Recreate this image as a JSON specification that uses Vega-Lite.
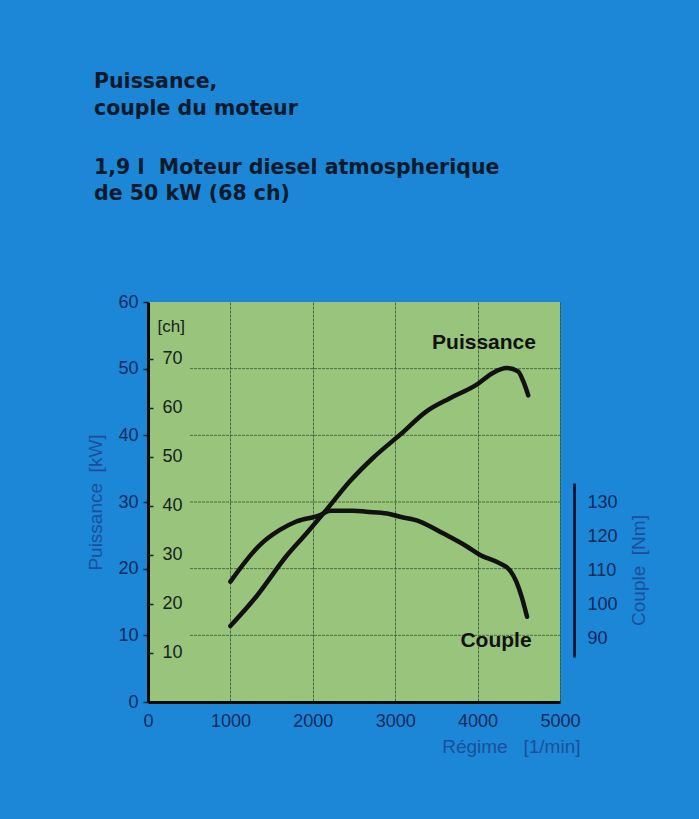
{
  "$schema": "https://vega.github.io/schema/vega-lite/v6.json",
  "autosize": {"type": "none"},
  "padding": {"left": 148, "top": 302, "right": 139, "bottom": 117},
  "width": 412,
  "height": 400,
  "background": "#1c87d6",
  "config": {
    "view": {"stroke": null, "fill": "#98c47c"},
    "font": "Liberation Sans",
    "axis": {"labelFont": "Liberation Sans", "titleFont": "Liberation Sans"}
  },
  "title": {
    "text": ["Puissance,", "couple du moteur"],
    "subtitle": ["1,9 l\u00a0\u00a0Moteur diesel atmospherique", "de 50 kW (68 ch)"],
    "anchor": "start",
    "frame": "group",
    "orient": "top",
    "font": "DejaVu Sans",
    "subtitleFont": "DejaVu Sans",
    "fontSize": 20.5,
    "subtitleFontSize": 20.5,
    "fontWeight": "bold",
    "subtitleFontWeight": "bold",
    "color": "#0b1a2c",
    "subtitleColor": "#0b1a2c",
    "lineHeight": 27,
    "subtitleLineHeight": 26,
    "subtitlePadding": 38,
    "dx": -54,
    "offset": 89
  },
  "datasets": {
    "grid": [{"kw": 10}, {"kw": 20}, {"kw": 30}, {"kw": 40}, {"kw": 50}],
    "puissance": [
      {"rpm": 1000, "kw": 11.4},
      {"rpm": 1320, "kw": 15.9},
      {"rpm": 1680, "kw": 21.9},
      {"rpm": 1930, "kw": 25.4},
      {"rpm": 2170, "kw": 28.9},
      {"rpm": 2450, "kw": 33.1},
      {"rpm": 2730, "kw": 36.6},
      {"rpm": 3060, "kw": 40.1},
      {"rpm": 3380, "kw": 43.6},
      {"rpm": 3670, "kw": 45.6},
      {"rpm": 3990, "kw": 47.6},
      {"rpm": 4190, "kw": 49.4},
      {"rpm": 4350, "kw": 50.1},
      {"rpm": 4490, "kw": 49.6},
      {"rpm": 4555, "kw": 48.1},
      {"rpm": 4615, "kw": 46.0}
    ],
    "couple": [
      {"rpm": 1000, "nm": 106.7},
      {"rpm": 1360, "nm": 117.6},
      {"rpm": 1600, "nm": 122.0},
      {"rpm": 1800, "nm": 124.5},
      {"rpm": 2090, "nm": 126.4},
      {"rpm": 2210, "nm": 127.7},
      {"rpm": 2490, "nm": 127.7},
      {"rpm": 2650, "nm": 127.4},
      {"rpm": 2900, "nm": 126.9},
      {"rpm": 3060, "nm": 125.9},
      {"rpm": 3300, "nm": 124.5},
      {"rpm": 3580, "nm": 121.0},
      {"rpm": 3870, "nm": 117.1},
      {"rpm": 4030, "nm": 114.6},
      {"rpm": 4270, "nm": 112.1},
      {"rpm": 4390, "nm": 110.1},
      {"rpm": 4470, "nm": 106.7},
      {"rpm": 4535, "nm": 102.2},
      {"rpm": 4600, "nm": 96.3}
    ],
    "ch": [{"ch": 10}, {"ch": 20}, {"ch": 30}, {"ch": 40}, {"ch": 50}, {"ch": 60}, {"ch": 70}],
    "labels": [
      {"label": "Puissance", "rpm": 4078, "kw": 52.9},
      {"label": "Couple", "rpm": 4223, "kw": 8.2}
    ]
  },
  "layer": [
    {
      "data": {"name": "grid"},
      "mark": {"type": "rule", "color": "#2d4f2a", "strokeWidth": 1, "opacity": 0.75, "strokeDash": [3, 1]},
      "encoding": {
        "x": {"datum": 510, "type": "quantitative", "scale": {"domain": [0, 5000], "nice": false}},
        "x2": {"datum": 5000},
        "y": {"field": "kw", "type": "quantitative", "scale": {"domain": [0, 60], "nice": false}, "axis": null}
      }
    },
    {
      "data": {"name": "puissance"},
      "mark": {"type": "line", "interpolate": "monotone", "color": "#111111", "strokeWidth": 4.5, "strokeCap": "round"},
      "encoding": {
        "x": {
          "field": "rpm",
          "type": "quantitative",
          "scale": {"domain": [0, 5000], "nice": false},
          "axis": {
            "values": [0, 1000, 2000, 3000, 4000, 5000],
            "format": "d",
            "grid": true,
            "gridColor": "#2d4f2a",
            "gridOpacity": 0.75,
            "gridDash": [3, 1],
            "gridWidth": 1,
            "domain": true,
            "domainColor": "#0a0a0a",
            "domainWidth": 3,
            "ticks": false,
            "labelFontSize": 18,
            "labelColor": "#0c2a5c",
            "labelPadding": 10,
            "labelFlush": false,
            "title": "Régime\u00a0\u00a0\u00a0[1/min]",
            "titleFontSize": 19,
            "titleFontWeight": "normal",
            "titleColor": "#1b4f9c",
            "titleAnchor": "end",
            "titleAlign": "right",
            "titleBaseline": "alphabetic",
            "titleX": 432,
            "titleY": 50
          }
        },
        "y": {
          "field": "kw",
          "type": "quantitative",
          "scale": {"domain": [0, 60], "nice": false},
          "axis": {
            "orient": "left",
            "values": [0, 10, 20, 30, 40, 50, 60],
            "grid": false,
            "domain": true,
            "domainColor": "#0a0a0a",
            "domainWidth": 3,
            "ticks": true,
            "tickSize": 5,
            "tickColor": "#0c2040",
            "tickWidth": 1.5,
            "labelFontSize": 18,
            "labelColor": "#0c2a5c",
            "labelPadding": 5,
            "labelFlush": false,
            "title": "Puissance\u00a0\u00a0[kW]",
            "titleFontSize": 19,
            "titleFontWeight": "normal",
            "titleColor": "#1b4f9c",
            "titlePadding": 12
          }
        }
      }
    },
    {
      "data": {"name": "couple"},
      "mark": {"type": "line", "interpolate": "monotone", "color": "#111111", "strokeWidth": 4.5, "strokeCap": "round"},
      "encoding": {
        "x": {"field": "rpm", "type": "quantitative", "scale": {"domain": [0, 5000], "nice": false}},
        "y": {
          "field": "nm",
          "type": "quantitative",
          "scale": {"domain": [84.4, 135.9], "range": [355, 181], "nice": false, "zero": false},
          "axis": {
            "orient": "right",
            "offset": 14,
            "values": [90, 100, 110, 120, 130],
            "grid": false,
            "domain": true,
            "domainColor": "#0d1a3a",
            "domainWidth": 3,
            "ticks": false,
            "labelFontSize": 18,
            "labelColor": "#0c2a5c",
            "labelPadding": 13,
            "labelFlush": false,
            "title": "Couple\u00a0\u00a0[Nm]",
            "titleAngle": 270,
            "titleBaseline": "top",
            "titleFontSize": 19,
            "titleFontWeight": "normal",
            "titleColor": "#1b4f9c",
            "titlePadding": 12
          }
        }
      }
    },
    {
      "data": {"name": "ch"},
      "mark": {"type": "point", "opacity": 0},
      "encoding": {
        "x": {"datum": 0, "type": "quantitative", "scale": {"domain": [0, 5000], "nice": false}},
        "y": {
          "field": "ch",
          "type": "quantitative",
          "scale": {"domain": [0, 81.58], "nice": false},
          "axis": {
            "orient": "right",
            "offset": -412,
            "values": [10, 20, 30, 40, 50, 60, 70],
            "grid": false,
            "domain": false,
            "ticks": true,
            "tickSize": 5,
            "tickColor": "#1c261c",
            "tickWidth": 1.5,
            "labelFontSize": 18,
            "labelColor": "#17211a",
            "labelPadding": 9,
            "labelFlush": false,
            "title": "[ch]",
            "titleAngle": 0,
            "titleFontSize": 17,
            "titleFontWeight": "normal",
            "titleColor": "#17211a",
            "titleAlign": "left",
            "titleBaseline": "middle",
            "titleX": 9,
            "titleY": 24
          }
        }
      }
    },
    {
      "data": {"name": "labels"},
      "mark": {"type": "text", "fontSize": 21, "fontWeight": "bold", "color": "#111111", "align": "center", "baseline": "alphabetic"},
      "encoding": {
        "x": {"field": "rpm", "type": "quantitative", "scale": {"domain": [0, 5000], "nice": false}},
        "y": {"field": "kw", "type": "quantitative", "scale": {"domain": [0, 60], "nice": false}, "axis": null},
        "text": {"field": "label"}
      }
    }
  ],
  "resolve": {"scale": {"y": "independent"}, "axis": {"y": "independent"}}
}
